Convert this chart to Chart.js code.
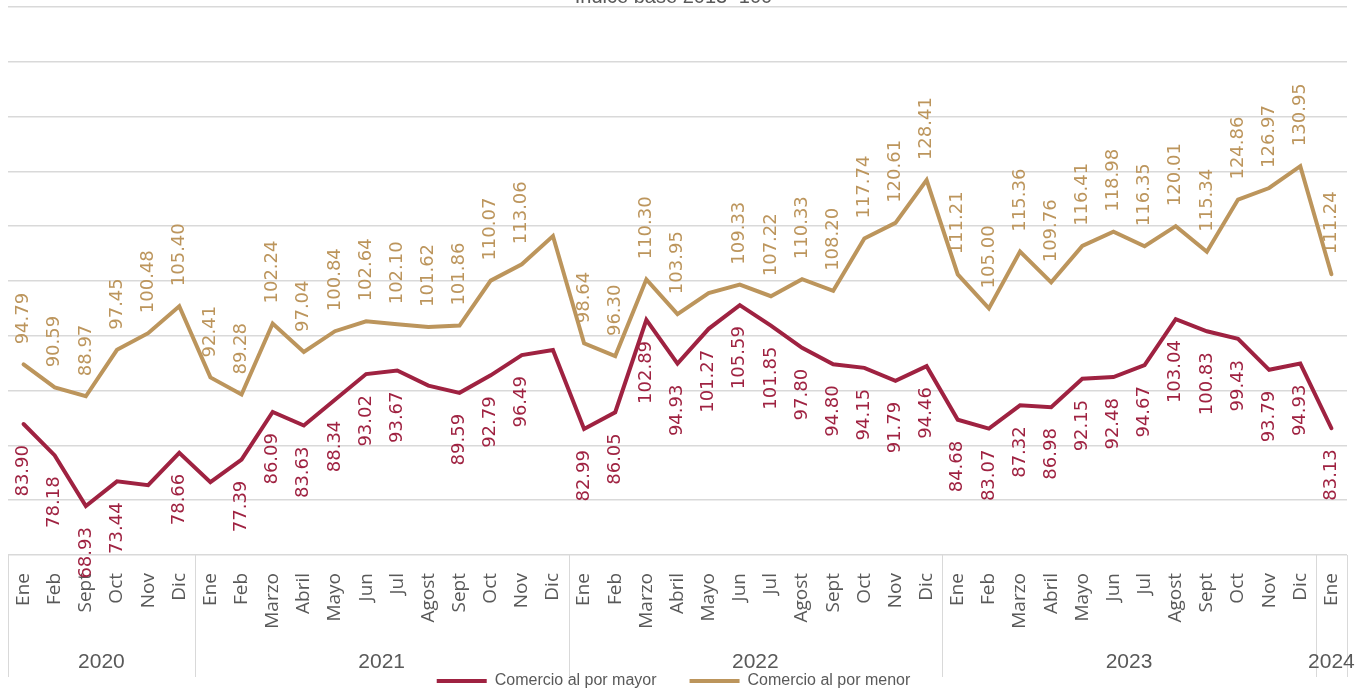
<!DOCTYPE html>
<html>
<head>
<meta charset="utf-8">
<script src="https://cdn.jsdelivr.net/npm/chart.js@4/dist/chart.umd.min.js"></script>
<style>
  html, body { margin: 0; padding: 0; background: #fff; }
  #wrap { position: relative; width: 1371px; height: 690px; overflow: hidden; }
  #chart { position: absolute; left: 0; top: -30px; width: 1371px; height: 720px; }
</style>
</head>
<body>
<div id="wrap"><canvas id="chart" width="1371" height="720"></canvas></div>
<script>
// meses por año (2020 solo trae Ene, Feb y Sept-Dic)
let months = [
  "Ene", "Feb", "Sept", "Oct", "Nov", "Dic",
  "Ene", "Feb", "Marzo", "Abril", "Mayo", "Jun", "Jul", "Agost", "Sept", "Oct", "Nov", "Dic",
  "Ene", "Feb", "Marzo", "Abril", "Mayo", "Jun", "Jul", "Agost", "Sept", "Oct", "Nov", "Dic",
  "Ene", "Feb", "Marzo", "Abril", "Mayo", "Jun", "Jul", "Agost", "Sept", "Oct", "Nov", "Dic",
  "Ene"
]
let years = ["2020", "2021", "2022", "2023", "2024"]
let monthsPerYear = [6, 12, 12, 12, 1]

let mayor = [
  83.90, 78.18, 68.93, 73.44, 72.75, 78.66,
  73.30, 77.39, 86.09, 83.63, 88.34, 93.02, 93.67, 90.90, 89.59, 92.79, 96.49, 97.40,
  82.99, 86.05, 102.89, 94.93, 101.27, 105.59, 101.85, 97.80, 94.80, 94.15, 91.79, 94.46,
  84.68, 83.07, 87.32, 86.98, 92.15, 92.48, 94.67, 103.04, 100.83, 99.43, 93.79, 94.93,
  83.13
]
let menor = [
  94.79, 90.59, 88.97, 97.45, 100.48, 105.40,
  92.41, 89.28, 102.24, 97.04, 100.84, 102.64, 102.10, 101.62, 101.86, 110.07, 113.06, 118.20,
  98.64, 96.30, 110.30, 103.95, 107.80, 109.33, 107.22, 110.33, 108.20, 117.74, 120.61, 128.41,
  111.21, 105.00, 115.36, 109.76, 116.41, 118.98, 116.35, 120.01, 115.34, 124.86, 126.97, 130.95,
  111.24
]
// etiquetas que no aparecen en el original
let hiddenMayor = [4, 6, 13, 17]
let hiddenMenor = [17, 22]

let guinda = "#9F2241"
let dorado = "#BC955C"
let gris = "#595959"
let lineaGris = "#d9d9d9"

// etiquetas de valor giradas
let valueLabels = {
  id: "valueLabels",
  afterDatasetsDraw(chart) {
    let ctx = chart.ctx
    chart.data.datasets.forEach((ds, di) => {
      let meta = chart.getDatasetMeta(di)
      meta.data.forEach((pt, i) => {
        if (ds.hiddenLabels.includes(i)) return
        ctx.save()
        ctx.translate(pt.x, pt.y)
        ctx.rotate(-Math.PI / 2)
        ctx.font = '18px "DejaVu Sans"'
        ctx.fillStyle = ds.borderColor
        ctx.textBaseline = "middle"
        let txt = ds.data[i].toFixed(2)
        if (ds.labelPos == "above") {
          ctx.textAlign = "left"
          ctx.fillText(txt, 20, 0)
        } else {
          ctx.textAlign = "right"
          ctx.fillText(txt, -21, 0)
        }
        ctx.restore()
      })
    })
  }
}

// fila de años y separadores bajo el eje
let yearRow = {
  id: "yearRow",
  afterDraw(chart) {
    let ctx = chart.ctx
    let x = chart.scales.x
    let area = chart.chartArea
    let half = (x.getPixelForValue(1) - x.getPixelForValue(0)) / 2
    ctx.save()
    ctx.strokeStyle = lineaGris
    ctx.lineWidth = 1
    let start = 0
    let edges = [area.left]
    monthsPerYear.forEach(n => {
      start += n
      edges.push(x.getPixelForValue(start - 1) + half)
    })
    edges.forEach(px => {
      ctx.beginPath()
      ctx.moveTo(Math.round(px) + 0.5, area.bottom)
      ctx.lineTo(Math.round(px) + 0.5, area.bottom + 122)
      ctx.stroke()
    })
    ctx.fillStyle = gris
    ctx.font = '21px "Liberation Sans"'
    ctx.textAlign = "center"
    ctx.textBaseline = "middle"
    years.forEach((y, k) => {
      let cx = (edges[k] + edges[k + 1]) / 2
      ctx.fillText(y, cx, area.bottom + 107)
    })
    ctx.restore()
  }
}

let ctx = document.querySelector("#chart").getContext("2d")

let chart = new Chart(ctx, {
  type: "line",
  data: {
    labels: months,
    datasets: [
      {
        label: "Comercio al por mayor",
        data: mayor,
        borderColor: guinda,
        backgroundColor: guinda,
        borderWidth: 4,
        borderCapStyle: "round",
        pointRadius: 0,
        tension: 0,
        labelPos: "below",
        hiddenLabels: hiddenMayor
      },
      {
        label: "Comercio al por menor",
        data: menor,
        borderColor: dorado,
        backgroundColor: dorado,
        borderWidth: 4,
        borderCapStyle: "round",
        pointRadius: 0,
        tension: 0,
        labelPos: "above",
        hiddenLabels: hiddenMenor
      }
    ]
  },
  options: {
    responsive: false,
    animation: false,
    layout: { padding: { left: 0, right: 24, top: 0, bottom: 0 } },
    scales: {
      x: {
        offset: true,
        grid: { display: false },
        border: { display: false },
        ticks: {
          autoSkip: false,
          maxRotation: 90,
          minRotation: 90,
          padding: 10,
          color: gris,
          font: { family: "Open Sans", size: 19 }
        },
        afterFit(s) { s.height = 85 }
      },
      y: {
        min: 60,
        max: 160,
        ticks: { display: false, stepSize: 10 },
        grid: { color: lineaGris, lineWidth: 1.5, drawTicks: false },
        border: { display: false },
        afterFit(s) { s.width = 8 }
      }
    },
    plugins: {
      title: {
        display: true,
        text: "Índice base 2013=100",
        color: gris,
        font: { family: "Liberation Sans", size: 20, weight: "normal", lineHeight: 1 },
        padding: { top: 17, bottom: 0 }
      },
      legend: {
        position: "bottom",
        maxHeight: 50,
        labels: {
          usePointStyle: true,
          pointStyle: "line",
          pointStyleWidth: 50,
          padding: 33,
          color: gris,
          font: { family: "Liberation Sans", size: 16 }
        }
      },
      tooltip: { enabled: false }
    }
  },
  plugins: [valueLabels, yearRow]
})
</script>
</body>
</html>
